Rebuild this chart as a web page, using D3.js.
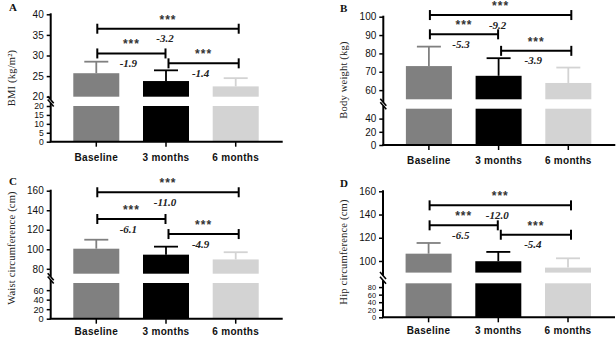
<!DOCTYPE html>
<html><head><meta charset="utf-8">
<script src="https://cdn.jsdelivr.net/npm/d3@7/dist/d3.min.js"></script>
<style>
html,body{margin:0;padding:0;background:#fff;}
svg{display:block;}
</style></head>
<body>
<svg id="chart" width="616" height="338"></svg>
<script>
// ---- data ----
const categories = ["Baseline", "3 months", "6 months"];
const barColors = ["#808080", "#000000", "#d3d3d3"];

const bmiMean = [25.7, 23.8, 22.5];
const bmiSD = [2.8, 2.6, 2.0];
const weightMean = [73.1, 67.8, 63.9];
const weightSD = [10.6, 9.6, 8.4];
const waistMean = [100.6, 94.5, 89.6];
const waistSD = [9.2, 8.2, 7.4];
const hipMean = [106.3, 99.8, 94.3];
const hipSD = [9.2, 8.0, 8.0];

const comparisons = [[0, 2], [0, 1], [1, 2]];
const significance = ["***", "***", "***"];
const bmiDiff = ["-3.2", "-1.9", "-1.4"];
const weightDiff = ["-9.2", "-5.3", "-3.9"];
const waistDiff = ["-11.0", "-6.1", "-4.9"];
const hipDiff = ["-12.0", "-6.5", "-5.4"];
const bmiBracketLevel = [36.5, 30.5, 28.1];
const weightBracketLevel = [100.9, 90.4, 81.4];
const waistBracketLevel = [158.4, 131, 115.6];
const hipBracketLevel = [147.9, 130.7, 122.6];

const bmiUpperTicks = [20, 25, 30, 35, 40];
const bmiLowerTicks = [0, 5, 10, 15, 20];
const weightUpperTicks = [60, 70, 80, 90, 100];
const weightLowerTicks = [0, 20, 40];
const waistUpperTicks = [80, 100, 120, 140, 160];
const waistLowerTicks = [0, 20, 40, 60];
const hipUpperTicks = [100, 120, 140, 160];
const hipLowerTicks = [0, 20, 40, 60, 80];

// ---- layout ----
const panels = [
  {letter: "A", ylabel: "BMI (kg/m²)", mean: bmiMean, sd: bmiSD, diff: bmiDiff, level: bmiBracketLevel,
   upTicks: bmiUpperTicks, lowTicks: bmiLowerTicks, brk: 20, max: 40, lowFont: 8.6, xPad: 7,
   ax: 50.7, up: [96.7, 14.3], low: [141.7, 106], lx: 9, ly: 11, labX: 11, labY: 78},
  {letter: "B", ylabel: "Body weight (kg)", mean: weightMean, sd: weightSD, diff: weightDiff, level: weightBracketLevel,
   upTicks: weightUpperTicks, lowTicks: weightLowerTicks, brk: 55, max: 100, lowFont: 10, xPad: 7,
   ax: 383.3, up: [99.3, 16.7], low: [145, 108.7], lx: 340, ly: 12, labX: 343, labY: 80},
  {letter: "C", ylabel: "Waist circumference (cm)", mean: waistMean, sd: waistSD, diff: waistDiff, level: waistBracketLevel,
   upTicks: waistUpperTicks, lowTicks: waistLowerTicks, brk: 75, max: 160, lowFont: 9.2, xPad: 4.5,
   ax: 50.7, up: [273.7, 190.7], low: [318.7, 283], lx: 9, ly: 185, labX: 11, labY: 248},
  {letter: "D", ylabel: "Hip circumference (cm)", mean: hipMean, sd: hipSD, diff: hipDiff, level: hipBracketLevel,
   upTicks: hipUpperTicks, lowTicks: hipLowerTicks, brk: 90, max: 160, lowFont: 7.4, xPad: 4.5,
   ax: 383, up: [272.6, 191.3], low: [317.3, 283.3], lx: 340, ly: 187, labX: 343, labY: 252}
];

const svg = d3.select("#chart");
const sans = "'Liberation Sans', Arial, sans-serif";
const serif = "'Liberation Serif', 'Times New Roman', serif";

panels.forEach(p => {
  const g = svg.append("g");
  const x = d3.scaleBand().domain(categories).range([p.ax, p.ax + 230.6])
    .paddingInner(0.34).paddingOuter(0.324);
  const yU = d3.scaleLinear().domain([p.brk, p.max]).range(p.up);
  const yL = d3.scaleLinear().domain([0, p.brk]).range(p.low);
  const cx = c => x(c) + x.bandwidth() / 2;

  // bars: upper part and lower part
  categories.forEach((c, i) => {
    g.append("rect").attr("x", x(c)).attr("width", x.bandwidth())
      .attr("y", yU(p.mean[i])).attr("height", yU(p.brk) - yU(p.mean[i]))
      .attr("fill", barColors[i]);
    g.append("rect").attr("x", x(c)).attr("width", x.bandwidth())
      .attr("y", yL(p.brk)).attr("height", yL(0) - yL(p.brk))
      .attr("fill", barColors[i]);
    // error bar (upward only)
    const top = yU(p.mean[i] + p.sd[i]);
    g.append("line").attr("x1", cx(c)).attr("x2", cx(c))
      .attr("y1", yU(p.mean[i])).attr("y2", top)
      .attr("stroke", barColors[i]).attr("stroke-width", 1.8);
    g.append("line").attr("x1", cx(c) - 12).attr("x2", cx(c) + 12)
      .attr("y1", top).attr("y2", top)
      .attr("stroke", barColors[i]).attr("stroke-width", 1.8);
  });

  // y axes
  const styleAxis = (sel, fs) => {
    sel.select(".domain").remove();
    sel.selectAll(".tick line").attr("stroke", "#000").attr("stroke-width", 1.5);
    sel.selectAll(".tick text").attr("font-family", sans).attr("font-size", fs + "px")
      .attr("fill", "#111").attr("dx", "-1");
  };
  g.append("g").attr("transform", `translate(${p.ax},0)`)
    .call(d3.axisLeft(yU).tickValues(p.upTicks).tickSize(4).tickPadding(2).tickFormat(d3.format("d")))
    .call(styleAxis, 10);
  g.append("g").attr("transform", `translate(${p.ax},0)`)
    .call(d3.axisLeft(yL).tickValues(p.lowTicks).tickSize(4).tickPadding(2).tickFormat(d3.format("d")))
    .call(styleAxis, p.lowFont);
  // axis lines with break
  const upEnd = yU(p.brk) + 3, lowStart = yL(p.brk) - 3;
  g.append("line").attr("x1", p.ax).attr("x2", p.ax).attr("y1", yU(p.max) - 1).attr("y2", upEnd)
    .attr("stroke", "#000").attr("stroke-width", 2);
  g.append("line").attr("x1", p.ax).attr("x2", p.ax).attr("y1", lowStart).attr("y2", yL(0))
    .attr("stroke", "#000").attr("stroke-width", 2);
  [upEnd, lowStart].forEach(yy => {
    g.append("line").attr("x1", p.ax - 3).attr("x2", p.ax + 3)
      .attr("y1", yy - 3.5).attr("y2", yy + 3.5)
      .attr("stroke", "#000").attr("stroke-width", 1.6);
  });

  // x axis
  const xa = g.append("g").attr("transform", `translate(0,${yL(0)})`)
    .call(d3.axisBottom(x).tickSize(5).tickSizeOuter(0).tickPadding(p.xPad));
  xa.select(".domain").remove();
  xa.selectAll(".tick line").attr("stroke", "#000").attr("stroke-width", 1.5);
  xa.selectAll(".tick text").attr("font-family", sans).attr("font-size", "10px")
    .attr("font-weight", "bold").attr("fill", "#111").attr("letter-spacing", "0.3px");
  g.append("line").attr("x1", p.ax - 1).attr("x2", p.ax + 232).attr("y1", yL(0)).attr("y2", yL(0))
    .attr("stroke", "#000").attr("stroke-width", 2);

  // significance brackets
  comparisons.forEach((pair, k) => {
    const x1 = cx(categories[pair[0]]) + 1;
    const x2 = cx(categories[pair[1]]) + (pair[1] === 2 ? 3 : -0.5);
    const xs = pair[0] === 1 ? x1 + 1.5 : x1;
    const yy = yU(p.level[k]);
    g.append("line").attr("x1", xs).attr("x2", x2).attr("y1", yy).attr("y2", yy)
      .attr("stroke", "#000").attr("stroke-width", 2);
    [xs, x2].forEach(xx => g.append("line").attr("x1", xx).attr("x2", xx)
      .attr("y1", yy - 5).attr("y2", yy + 5).attr("stroke", "#000").attr("stroke-width", 2));
    const mid = (xs + x2) / 2;
    g.append("text").attr("x", mid).attr("y", yy - 5).attr("text-anchor", "middle")
      .attr("font-family", sans).attr("font-size", "12px").attr("font-weight", "bold")
      .attr("letter-spacing", "1px").attr("fill", "#333").text(significance[k]);
    g.append("text").attr("x", mid - 3).attr("y", yy + 13.5).attr("text-anchor", "middle")
      .attr("font-family", serif).attr("font-size", "11px").attr("font-weight", "bold")
      .attr("font-style", "italic").attr("fill", "#222").text(p.diff[k]);
  });

  // y label
  g.append("text").attr("transform", `translate(${p.labX},${p.labY}) rotate(-90)`)
    .attr("text-anchor", "middle").attr("dy", "0.35em")
    .attr("font-family", serif).attr("font-size", "10.5px").attr("fill", "#222")
    .attr("letter-spacing", "0.2px").text(p.ylabel);
  // panel letter
  g.append("text").attr("x", p.lx).attr("y", p.ly)
    .attr("font-family", serif).attr("font-size", "11px").attr("font-weight", "bold")
    .attr("fill", "#111").text(p.letter);
});
</script>
</body></html>
